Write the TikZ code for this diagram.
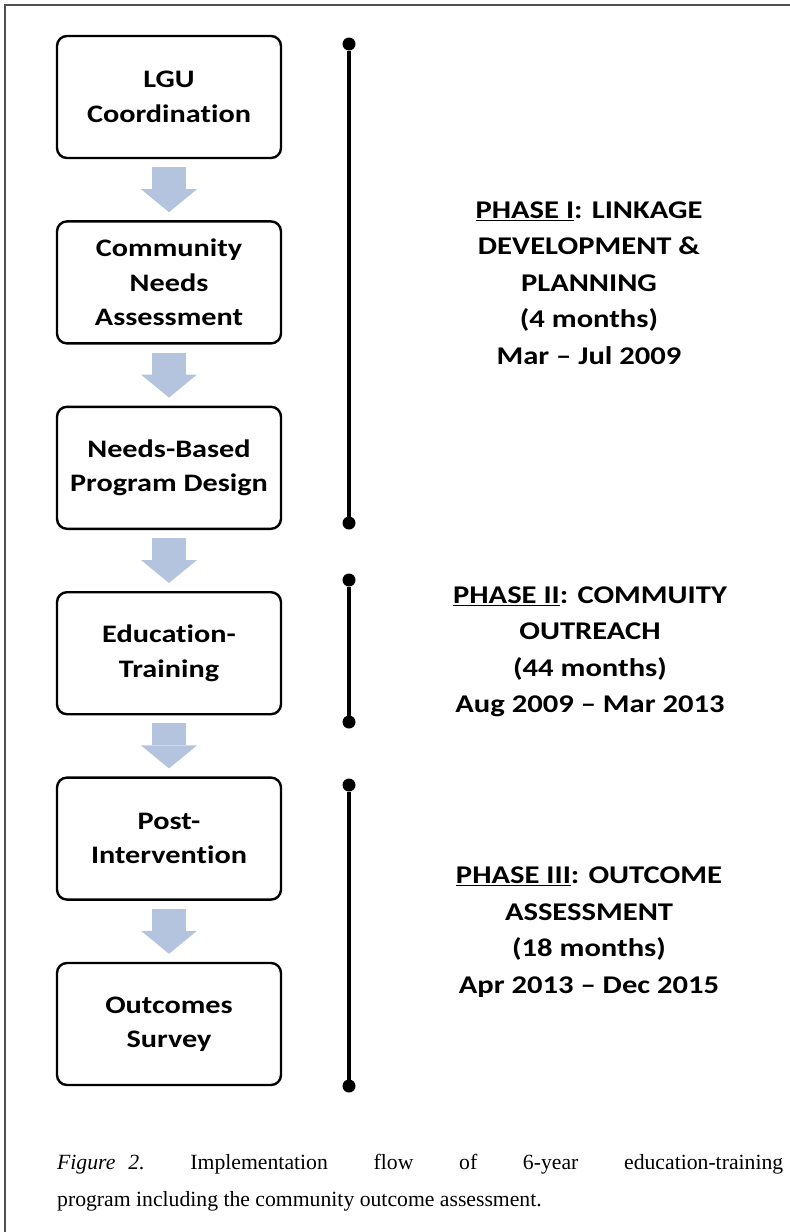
\documentclass[tikz,border=0pt]{standalone}
\usepackage{fontspec}
\setmainfont{Liberation Serif}
\newfontfamily\flowfont{Carlito}[FakeStretch=1.2, Ligatures={NoCommon}]
\usepackage{tikz}
\usetikzlibrary{positioning, arrows.meta}
\definecolor{ArrowB}{HTML}{B5C4DE}
\definecolor{FrameA}{HTML}{505050}
\tikzset{
  box/.style={draw, line width=2.4pt, rounded corners=10pt, align=center, minimum width=224pt, minimum height=122pt, inner sep=0pt, font=\flowfont\bfseries\fontsize{25.2}{34.5}\selectfont},
  flow/.style={draw=ArrowB, line width=34pt, shorten <=8pt, shorten >=8pt, -{Triangle[width=56pt,length=23pt,line width=0pt]}},
  phase/.style={align=center, inner sep=0pt, font=\flowfont\bfseries\fontsize{25.5}{36.5}\selectfont},
  tline/.style={line width=4pt, {Circle[length=13pt,line width=0pt]}-{Circle[length=13pt,line width=0pt]}},
  capt/.style={align=justify, text width=726pt, inner sep=0pt, font=\frenchspacing\fontsize{21.7}{37}\selectfont}
}

\begin{document}
\begin{tikzpicture}[x=1pt, y=-1pt, node distance=61pt]
  \useasboundingbox (0,0) rectangle (790,1232);
  \draw[FrameA, line width=1.6pt] (5,1232) -- (5,5) -- (790,5);

  % flow boxes
  \node[box] (lgu) at (169,97) {LGU\\Coordination};
  \node[box,below=of lgu] (needs) {Community\\Needs\\Assessment};
  \node[box,below=of needs] (design) {Needs-Based\\Program Design};
  \node[box,below=of design] (train) {Education-\\Training};
  \node[box,below=of train] (post) {Post-\\Intervention};
  \node[box,below=of post] (survey) {Outcomes\\Survey};

  \draw[flow] (lgu) -- (needs);
  \draw[flow] (needs) -- (design);
  \draw[flow] (design) -- (train);
  \draw[flow] (train) -- (post);
  \draw[flow] (post) -- (survey);

  % phase timelines
  \coordinate (p1a) at (349,37.5);
  \coordinate (p1b) at (349,529.5);
  \coordinate (p2a) at (349,573.5);
  \coordinate (p2b) at (349,728.5);
  \coordinate (p3a) at (349,778.5);
  \coordinate (p3b) at (349,1092.5);
  \draw[tline] (p1a) -- (p1b);
  \draw[tline] (p2a) -- (p2b);
  \draw[tline] (p3a) -- (p3b);

  \node[phase] (ph1) at (589,283) {\underline{PHASE I}: LINKAGE\\DEVELOPMENT \&\\PLANNING\\(4 months)\\Mar – Jul 2009};
  \node[phase] (ph2) at (590,652) {\underline{PHASE II}: COMMUITY\\OUTREACH\\(44 months)\\Aug 2009 – Mar 2013};
  \node[phase] (ph3) at (589,932) {\underline{PHASE III}: OUTCOME\\ASSESSMENT\\(18 months)\\Apr 2013 – Dec 2015};

  \node[capt, anchor=north west] (caption) at (57,1154) {\textit{Figure}\hspace{13pt}\textit{2.} Implementation flow of 6-year \mbox{education-training}\linebreak program including the community outcome assessment.};
\end{tikzpicture}
\end{document}
